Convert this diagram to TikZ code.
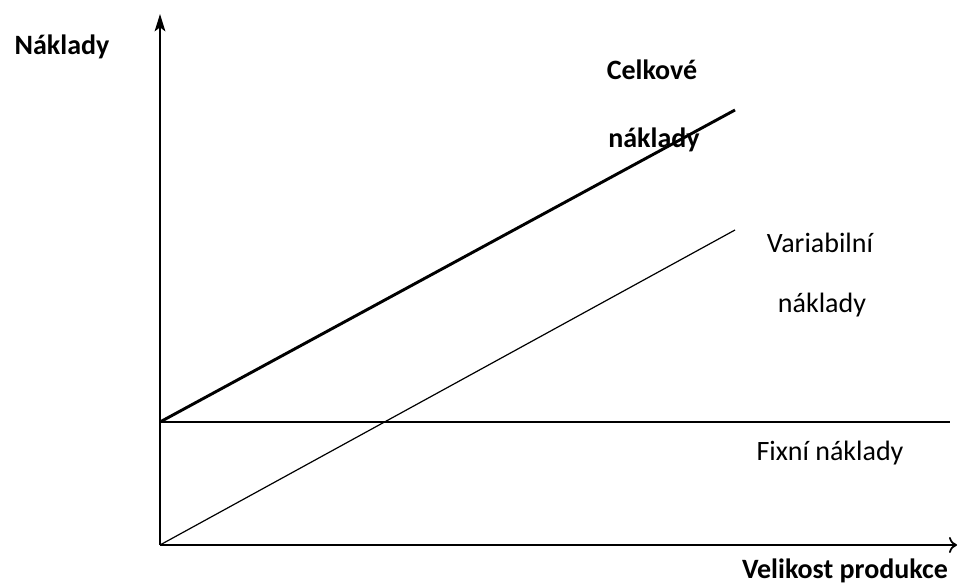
\documentclass[tikz,border=0pt]{standalone}
\usepackage{fontspec}
\setmainfont{Carlito}
\usetikzlibrary{arrows.meta}
\begin{document}
\begin{tikzpicture}[x=0.75pt,y=-0.75pt,
  axis/.style={line width=1.6pt},
  lbl/.style={font=\fontsize{21}{25}\selectfont, inner sep=0pt},
  blbl/.style={lbl, font=\fontsize{21}{25}\selectfont\bfseries}]
\useasboundingbox (0,0) rectangle (965,585);
% axes
\coordinate (O) at (160,545);
\coordinate (F) at (160,422);
\coordinate (ytop) at (160,14);
\coordinate (xend) at (957,545);
\draw[axis, -{Stealth[length=13pt, width=8pt, inset=3pt]}] (O) -- (ytop);
\draw[axis, -{To[length=6pt, width=12pt, line width=1.3pt]}] (O) -- (xend);
% cost lines
\coordinate (fend) at (950,422);
\coordinate (tend) at (735,110);
\coordinate (vend) at (735,230);
\draw[line width=1.1pt] (F) -- (fend);
\draw[line width=2.2pt] (F) -- (tend);
\draw[line width=0.9pt] (O) -- (vend);
% labels
\node[blbl] (ny) at (62,47) {Náklady};
\node[blbl] (nx) at (845,571) {Velikost produkce};
\node[blbl] (c1) at (652,70) {Celkové};
\node[blbl] (c2) at (654,140) {náklady};
\node[lbl] (v1) at (820,243) {Variabilní};
\node[lbl] (v2) at (822,305) {náklady};
\node[lbl] (fx) at (830,453) {Fixní náklady};
\end{tikzpicture}
\end{document}
